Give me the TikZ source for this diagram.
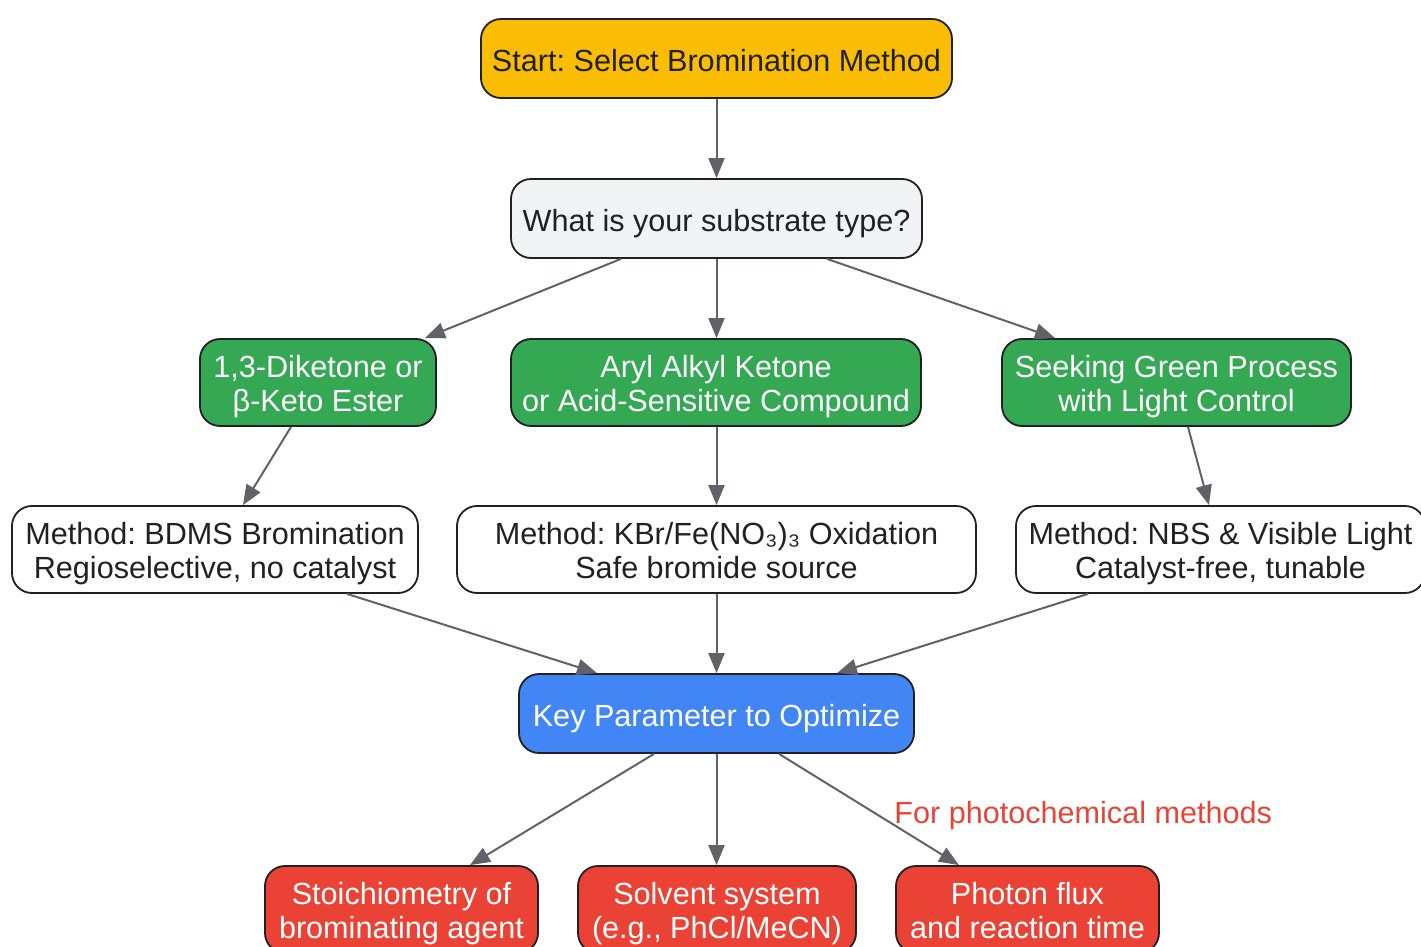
\documentclass[tikz,border=0pt]{standalone}
\usepackage{fontspec}
\setmainfont{Liberation Sans}
\frenchspacing
\usetikzlibrary{arrows.meta, calc}

\definecolor{startyellow}{HTML}{FBBC04}
\definecolor{askgrey}{HTML}{F1F3F4}
\definecolor{pathgreen}{HTML}{34A853}
\definecolor{keyblue}{HTML}{4285F4}
\definecolor{paramred}{HTML}{EA4335}
\definecolor{edgegrey}{HTML}{5F6368}
\definecolor{inkdark}{HTML}{202124}

\begin{document}
\begin{tikzpicture}[x=0.5pt, y=-0.5pt, >={Triangle[length=10pt, width=8pt]},
    boxtext/.style={font=\fontsize{15.3}{17}\selectfont},
    box/.style={boxtext, draw=inkdark, line width=0.9pt, rounded corners=10pt, align=center,
        inner sep=0pt, text=inkdark},
    short/.style={box, minimum height=39.5pt, text height=15.5pt, text depth=2.5pt},
    tall/.style={box, minimum height=43.5pt, text height=31pt, text depth=2.5pt},
    greenbox/.style={tall, fill=pathgreen, text=white},
    methodbox/.style={tall, fill=white},
    redbox/.style={tall, fill=paramred, text=white},
    link/.style={->, draw=edgegrey, line width=1pt}]
    \useasboundingbox (0, 0) rectangle (1421, 947);

    % top of the tree
    \node[short, fill=startyellow, minimum width=235.5pt] (start) at (716.5, 58.5) {Start: Select Bromination Method};
    \node[short, fill=askgrey, minimum width=205.5pt] (substrate) at (716.5, 218.5) {What is your substrate type?};

    % substrate classes
    \node[greenbox, minimum width=118pt] (diketone) at (318, 382.5) {1,3-Diketone or\\β-Keto Ester};
    \node[greenbox, minimum width=205pt] (arylketone) at (716, 382.5) {Aryl Alkyl Ketone\\or Acid-Sensitive Compound};
    \node[greenbox, minimum width=174.5pt] (green) at (1176.5, 382.5) {Seeking Green Process\\with Light Control};

    % methods
    \node[methodbox, minimum width=203pt] (bdms) at (215, 549.5) {Method: BDMS Bromination\\Regioselective, no catalyst};
    \node[methodbox, minimum width=259.5pt] (kbr) at (716.5, 549.5) {Method: KBr/Fe(NO₃)₃ Oxidation\\Safe bromide source};
    \node[methodbox, minimum width=204.5pt] (nbs) at (1220.5, 549.5) {Method: NBS \& Visible Light\\Catalyst-free, tunable};

    % parameters
    \node[short, fill=keyblue, text=white, minimum width=197.5pt] (key) at (716.5, 713.5) {Key Parameter to Optimize};
    \node[redbox, minimum width=136.5pt] (stoich) at (401.5, 909.5) {Stoichiometry of\\brominating agent};
    \node[redbox, minimum width=139pt] (solvent) at (717, 909.5) {Solvent system\\(e.g., PhCl/MeCN)};
    \node[redbox, minimum width=131.5pt] (photon) at (1027.5, 909.5) {Photon flux\\and reaction time};
    \node[boxtext, text height=15.5pt, text depth=2.5pt, anchor=west, inner sep=0pt, text=paramred] (photolabel) at (894, 810) {For photochemical methods};

    \draw[link] (start) -- (substrate);
    \draw[link] ([xshift=-47.75pt]substrate.south) -- ([xshift=53.5pt]diketone.north);
    \draw[link] (substrate.south) -- (arylketone.north -| substrate.south);
    \draw[link] ([xshift=55.25pt]substrate.south) -- ([xshift=-60.75pt]green.north);

    \draw[link] ([xshift=-13.5pt]diketone.south) -- ([xshift=14pt]bdms.north);
    \draw[link] (arylketone.south -| kbr.north) -- (kbr.north);
    \draw[link] ([xshift=5.75pt]green.south) -- ([xshift=-5.75pt]nbs.north);

    \draw[link] ([xshift=66pt]bdms.south) -- ([xshift=-59.75pt]key.north);
    \draw[link] (kbr) -- (key);
    \draw[link] ([xshift=-66.25pt]nbs.south) -- ([xshift=60.25pt]key.north);

    \draw[link] ([xshift=-31.25pt]key.south) -- ([xshift=34.25pt]stoich.north);
    \draw[link] (key.south) -- (solvent.north -| key.south);
    \draw[link] ([xshift=31.25pt]key.south) -- ([xshift=-34.25pt]photon.north);
\end{tikzpicture}
\end{document}
